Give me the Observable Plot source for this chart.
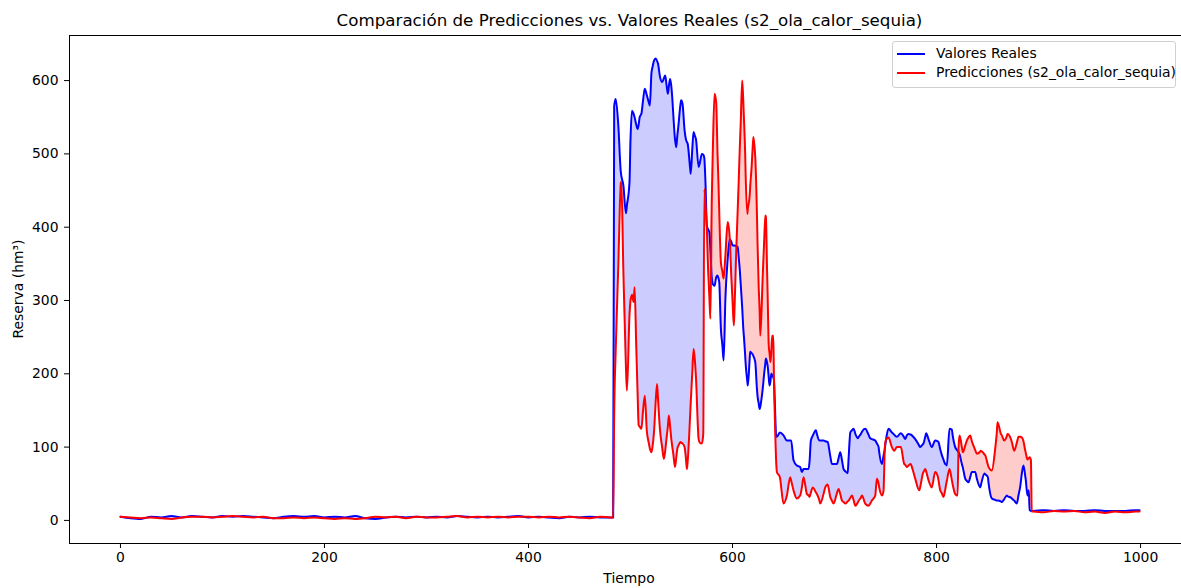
<!DOCTYPE html>
<html><head><meta charset="utf-8">
<script src="https://cdn.jsdelivr.net/npm/d3@7"></script>
<script src="https://cdn.jsdelivr.net/npm/@observablehq/plot@0.6"></script>
<style>
html,body{margin:0;padding:0;overflow:hidden;background:#fff;}
body{width:1181px;height:588px;position:relative;font-family:"DejaVu Sans",sans-serif;color:#000;}
#title{position:absolute;left:0;top:9px;width:1259px;text-align:center;font-size:16.7px;line-height:22px;white-space:nowrap;}
#chart{position:absolute;left:0;top:30px;width:1190px;}
#chart svg{max-width:none !important;width:1190px;height:558px;}
.lbl{position:absolute;font-size:13.9px;line-height:16px;white-space:nowrap;}
#ylab{left:18px;top:289px;transform:translate(-50%,-50%) rotate(-90deg);}
#xlab{left:629px;top:578px;transform:translate(-50%,-50%);}
#legend{position:absolute;left:892px;top:41px;width:284px;height:47px;border:1px solid #d0d0d0;border-radius:3px;background:rgba(255,255,255,0.8);box-sizing:border-box;}
.sw{position:absolute;left:4px;width:28px;height:2px;}
.lt{position:absolute;left:43px;font-size:13.9px;line-height:16px;white-space:nowrap;}
</style>
</head><body>
<div id="title">Comparación de Predicciones vs. Valores Reales (s2_ola_calor_sequia)</div>
<div id="chart"></div>
<div class="lbl" id="ylab">Reserva (hm³)</div>
<div class="lbl" id="xlab">Tiempo</div>
<div id="legend">
  <div class="sw" style="top:11px;background:#0000ff"></div>
  <div class="lt" style="top:3px">Valores Reales</div>
  <div class="sw" style="top:30px;background:#ff0000"></div>
  <div class="lt" style="top:22px">Predicciones (s2_ola_calor_sequia)</div>
</div>
<script>
// ---- data ----
const tFlat = [0,10,20,30,40,50,60,70,80,90,100,110,120,130,140,150,160,170,180,190,200,210,220,230,240,250,260,270,280,290,300,310,320,330,340,350,360,370,380,390,400,410,420,430,440,450,460,470,480,483];
const realFlat = [5,3,2,5,4,6,4,6,5,4,6,5,6,5,4,3,5,6,5,6,4,5,4,6,3,2,4,5,4,5,4,5,4,6,5,4,5,4,5,6,4,5,4,3,5,4,5,4,4,4];
const predFlat = [5,4,3,4,3,2,4,5,5,4,5,6,5,4,5,3,3,4,3,4,3,2,3,2,3,5,4,5,3,5,4,4,5,6,4,5,4,5,4,5,5,4,5,4,5,4,3,5,4,4];

const tSurge = [484,485.5,488,490.5,491,493,495.5,496.5,499,500,
501.5,503,504,505.6,507,508,509,510.7,512.3,514,
516,518,519,520.5,521.5,523,524.6,526,527,528.8,
531,532.7,534,535.3,536.6,537.6,538.8,540,541,542,
543.6,544.8,545.9,547,549,549.6,551,553,554.3,555.3,
556,558.6,559,560.5,561.8,563,564.2,566.8,568,570,
571.3,572.3,573.5,574.8,575.7,577.3,578.3,579.7,580.8,582.4,
584,585.3,586.3,587,588.6,590,591.3,593,595.3,597.2,
598.9,600,601.3,602,603.6,605,606,607.2,608,609.5,
610.6,611.2,612.4,612.8,614.5,615,616.8,617.3,618.8,619.6,
620.5,622,622.3,623.9,624.5,625.6,626.6,627.2,628.8,629.5,
631,632.2,632.7,633.9,634.4,635.5,636.3,637.2,638,638.9,
640,640.6,641.5];
const realSurge = [565,575,540,475,470,457,419,430,461,520,
559,555,550,540,534,540,550,555,573,589,
580,570,566,610,618,627,630,627,623,606,
598,603,607,594,582,592,602,592,575,552,
520,509,525,539,568,573,568,532,520,516,
514,478,473,505,530,525,520,482,488,500,
499,495,460,402,398,393,370,330,322,320,
332,334,330,325,261,240,218,302,357,384,
380,375,375,375,374,373,360,340,323,290,
261,250,225,215,190,184,220,230,228,227,
224,218,216,180,170,160,152,155,170,178,
200,215,221,215,211,195,184,190,200,198,
195,192,160];
const predSurge = [145,233,346,460,462,340,210,177,280,300,
308,298,318,239,170,130,128,125,150,170,
122,105,98,93,100,120,160,186,165,125,
100,84,95,112,128,143,128,111,100,90,
73,85,98,102,107,106,105,100,85,70,
80,148,160,200,234,220,194,111,106,105,
118,452,430,400,357,305,275,440,511,582,
570,500,457,420,352,340,330,361,407,386,
330,300,266,290,366,420,460,511,540,600,
570,548,500,475,418,425,443,455,484,505,
523,502,495,420,380,320,285,252,300,330,
380,416,414,339,310,239,228,216,230,252,
252,194,140];

const tPlateau = [642.8,643.5,646.4,650,653.3,656.5,657.5,659.8,663,666.3,
668,669.6,672.9,674.5,675.5,676.8,678.8,681.8,682.7,685,
686,689.2,690.9,693.2,695.8,697.4,699.1,702.3,704,705.6,
707.3,708.9,710.6,712.9,713.8,715.5,717.1,718.8,720.4,723,
723.7,725.8,726.9,730.1,733.3,735,736.6,739.9,741.5,743.2,
743.8,746.4,748,749.2,750,752.9,756.2,757.8,758.4,761.1,
765,768.3,769.2,770.9,772.5,774.8,775.8,779.1,783,783.9,
786.6,787.2,788.9,789.8,792.1,795.4,798.6,801,801.9,803.6,
805.2,806.8,808.5,809.5,810.1,812.7,815,815.7,818.3,820.6,
821.6,822.6,824.8,825.8,828.1,829.7,831.3,833,834.6,836.2,
837.9,839.5,842.8,843.4,847,847.7,850.3,851,854.2,857.5,
859.1,859.8,863.1,864,866.3,868.9,869.6,872.9,873.8,876.2,
878.7,880.4,881.9,883.7,885.2,887,887.5,889.1,890.4,891.3,
892.5,893.3];
const realPlateau = [115,114,120,116,109,109,109,82,75,73,
66,70,70,70,80,109,116,123,118,109,
109,109,108,107,88,77,77,77,85,93,
82,70,67,64.5,85,120,123,125,118,112,
114,118,121,125,117,112,111,109,105,100,
93,77,88,97,105,125,120,118,117,114,
119,113,111,116,118,117,116,111,102,100,
104,105,114,119,111,100,109,108,107,97,
89,83,77,76,75,125,124,117,100,95,
93,90,77,72,57,54,52,59,66,66,
66,57,45,48,64,63,59,51,30,28,
27,27,26,25,29,34,33,31,30,27,
23,35,45,65,75,60,55,34,41,14,
13,13];
const predPlateau = [80,66,59,23,34,59,54,41,30,34,
45,59,36,34,32,38,45,38,36,28,
23,36,45,49,32,27,23,37,43,36,
27,25,23,26,27,31,34,27,20,25,
27,31,34,23,20,23,27,34,57,50,
45,34,40,95,108,113,100,96,95,100,
100,77,76,73,75,77,73,57,41,45,
64,66,70,67,55,45,66,61,55,41,
37,32,42,50,54,70,55,50,36,34,
100,116,100,93,102,109,113,116,108,102,
96,91,94,95,90,89,76,73,68,98,
120,134,118,116,109,115,118,111,107,95,
106,114,114,113,108,95,92,83,85,86,
82,12];

const tTail = [895,905,915,925,935,945,955,965,975,985,995,999];
const realTail = [13,14,13,14,13,13,14,13,13,13,14,14];
const predTail = [12,11,13,12,13,11,12,10,12,11,12,12];

const xTicks = [0,200,400,600,800,1000];
const yTicks = [0,100,200,300,400,500,600];

// ---- build table ----
const t = [...tFlat, ...tSurge, ...tPlateau, ...tTail];
const real = [...realFlat, ...realSurge, ...realPlateau, ...realTail];
const pred = [...predFlat, ...predSurge, ...predPlateau, ...predTail];
const rows = t.map((x, i) => ({t: x, real: real[i], pred: pred[i]}));

const curve = "monotone-x";
const chart = Plot.plot({
  width: 1190,
  height: 558,
  marginLeft: 69,
  marginRight: 0,
  marginTop: 5,
  marginBottom: 45,
  style: {fontFamily: "DejaVu Sans", fontSize: "13.9px", color: "black", background: "white", overflow: "visible", maxWidth: "none"},
  x: {domain: [-49.95, 1048.95]},
  y: {domain: [-31.5, 661.5]},
  marks: [
    Plot.areaY(rows, {x: "t", y1: "pred", y2: d => Math.max(d.real, d.pred), fill: "#0000ff", fillOpacity: 0.2, curve}),
    Plot.areaY(rows, {x: "t", y1: "real", y2: d => Math.max(d.real, d.pred), fill: "#ff0000", fillOpacity: 0.2, curve}),
    Plot.line(rows, {x: "t", y: "real", stroke: "#0000ff", strokeWidth: 2, curve}),
    Plot.line(rows, {x: "t", y: "pred", stroke: "#ff0000", strokeWidth: 2, curve}),
    Plot.axisX({ticks: xTicks, tickSize: 5, tickPadding: 4, label: null, tickFormat: d => String(d)}),
    Plot.axisY({ticks: yTicks, tickSize: 5, tickPadding: 6, label: null, tickFormat: d => String(d)}),
    Plot.frame({stroke: "black", strokeWidth: 1})
  ]
});
document.getElementById("chart").appendChild(chart);
</script>
</body></html>
